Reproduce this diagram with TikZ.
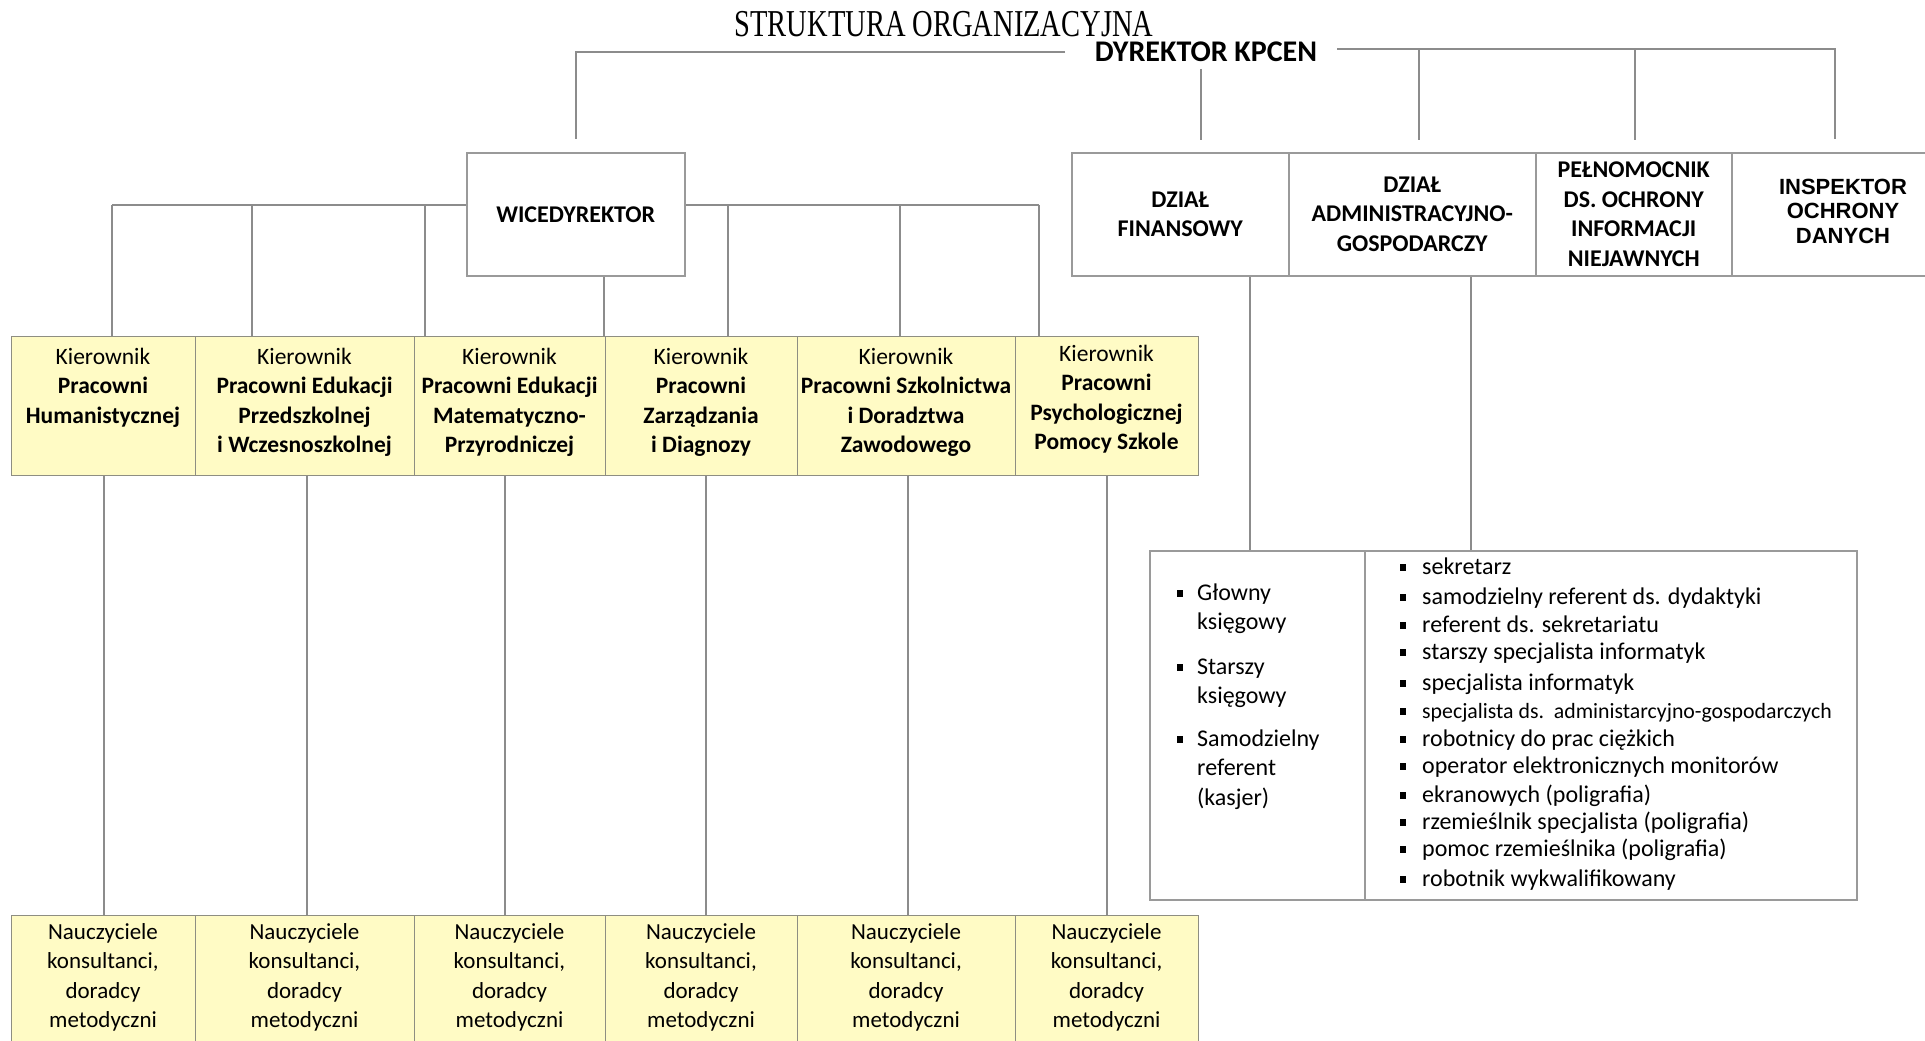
\documentclass[tikz,border=0pt]{standalone}
\usepackage{fontspec}
\setmainfont{Carlito}
\newfontfamily\titlefont{Liberation Serif}
\newfontfamily\arialfont{Liberation Sans}
\usetikzlibrary{backgrounds}
\definecolor{lncol}{HTML}{8C8C8C}
\definecolor{boxcol}{HTML}{9A9A9A}
\definecolor{kfill}{HTML}{FFFBC5}
\definecolor{kborder}{HTML}{8E8E82}
\newcommand{\stk}[1]{\begin{tabular}[t]{@{}c@{}}#1\end{tabular}}
\newcommand{\stkl}[1]{\begin{tabular}[t]{@{}l@{}}#1\end{tabular}}
\newcommand{\sqb}{\rule[3pt]{5.5pt}{7pt}}
\begin{document}
\begin{tikzpicture}[x=1pt,y=-1pt,
  ln/.style={draw=lncol, line width=1.5pt},
  frame/.style={draw=boxcol, line width=1.5pt, fill=white, rectangle, inner sep=0pt, anchor=north west},
  kbox/.style={draw=kborder, line width=1.4pt, fill=kfill, rectangle, inner sep=0pt, anchor=north west},
  hd/.style={font=\bfseries\fontsize{24}{29.5}\selectfont, align=center},
  ktext/.style={anchor=base, inner sep=0pt, font=\fontsize{23.5}{29.5}\selectfont},
  btext/.style={anchor=base, inner sep=0pt, font=\fontsize{23}{29.5}\selectfont},
  item/.style={anchor=base west, inner sep=0pt, font=\fontsize{24}{29.5}\selectfont},
]
\useasboundingbox (0,0) rectangle (1925,1041);

% title and director
\node[anchor=base, inner sep=0pt] (title) at (944,37) {\titlefont\fontsize{38}{40}\selectfont\scalebox{0.75}[1]{STRUKTURA ORGANIZACYJNA}};
\node[anchor=base, inner sep=0pt] (dyr) at (1206,62) {\bfseries\fontsize{30}{32}\selectfont DYREKTOR KPCEN};

% deputy
\node[frame, hd, minimum width=218pt, minimum height=123pt] (wice) at (466,152) {WICEDYREKTOR};

% top right boxes
\node[frame, hd, minimum width=217pt, minimum height=123pt] (fin) at (1071,152) {DZIAŁ\\FINANSOWY};
\node[frame, hd, minimum width=247pt, minimum height=123pt] (adm) at (1288,152) {DZIAŁ\\ADMINISTRACYJNO-\\GOSPODARCZY};
\node[frame, hd, minimum width=196pt, minimum height=123pt] (pel) at (1535,152) {PEŁNOMOCNIK\\DS. OCHRONY\\INFORMACJI\\NIEJAWNYCH};
\node[frame, minimum width=206pt, minimum height=123pt] (insp) at (1731,152) {};
\node[align=center, inner sep=0pt, font=\arialfont\bfseries\fontsize{22}{24.5}\selectfont] (inspt) at (1843,211) {INSPEKTOR\\OCHRONY\\DANYCH};

% kierownik row
\foreach \a/\b/\n in {11/195/1,195/414/2,414/605/3,605/797/4,797/1015/5,1015/1198/6} {
  \pgfmathsetmacro\w{\b-\a}
  \node[kbox, minimum width=\w pt, minimum height=139pt] (k\n) at (\a,336) {};
  \node[kbox, minimum width=\w pt, minimum height=140pt] (b\n) at (\a,915) {};
}
\node[ktext] (kt1) at (103,364) {\stk{Kierownik\\\textbf{Pracowni}\\\textbf{Humanistycznej}}};
\node[ktext] (kt2) at (304.5,364) {\stk{Kierownik\\\textbf{Pracowni Edukacji}\\\textbf{Przedszkolnej}\\\textbf{i Wczesnoszkolnej}}};
\node[ktext] (kt3) at (509.5,364) {\stk{Kierownik\\\textbf{Pracowni Edukacji}\\\textbf{Matematyczno-}\\\textbf{Przyrodniczej}}};
\node[ktext] (kt4) at (701,364) {\stk{Kierownik\\\textbf{Pracowni}\\\textbf{Zarządzania}\\\textbf{i Diagnozy}}};
\node[ktext] (kt5) at (906,364) {\stk{Kierownik\\\textbf{Pracowni Szkolnictwa}\\\textbf{i Doradztwa}\\\textbf{Zawodowego}}};
\node[ktext] (kt6) at (1106.5,361) {\stk{Kierownik\\\textbf{Pracowni}\\\textbf{Psychologicznej}\\\textbf{Pomocy Szkole}}};

\node[btext] (bt1) at (103,939) {\stk{Nauczyciele\\konsultanci,\\doradcy\\metodyczni}};
\node[btext] (bt2) at (304.5,939) {\stk{Nauczyciele\\konsultanci,\\doradcy\\metodyczni}};
\node[btext] (bt3) at (509.5,939) {\stk{Nauczyciele\\konsultanci,\\doradcy\\metodyczni}};
\node[btext] (bt4) at (701,939) {\stk{Nauczyciele\\konsultanci,\\doradcy\\metodyczni}};
\node[btext] (bt5) at (906,939) {\stk{Nauczyciele\\konsultanci,\\doradcy\\metodyczni}};
\node[btext] (bt6) at (1106.5,939) {\stk{Nauczyciele\\konsultanci,\\doradcy\\metodyczni}};

% staff list box
\node[frame, minimum width=215pt, minimum height=349pt] (lb1) at (1149,550) {};
\node[frame, minimum width=492pt, minimum height=349pt] (lb2) at (1364,550) {};

\node[item] (la) at (1177,600) {\sqb\hspace{14.5pt}\stkl{Głowny\\księgowy}};
\node[item] (lb) at (1177,674) {\sqb\hspace{14.5pt}\stkl{Starszy\\księgowy}};
\node[item] (lc) at (1177,746) {\sqb\hspace{14.5pt}\stkl{Samodzielny\\referent\\(kasjer)}};

\node[item] (ra) at (1400,574) {\sqb\hspace{16.5pt}sekretarz};
\node[item] (rb) at (1400,604) {\sqb\hspace{16.5pt}samodzielny referent ds. dydaktyki};
\node[item] (rc) at (1400,632) {\sqb\hspace{16.5pt}referent ds. sekretariatu};
\node[item] (rd) at (1400,659) {\sqb\hspace{16.5pt}starszy specjalista informatyk};
\node[item] (re) at (1400,690) {\sqb\hspace{16.5pt}specjalista informatyk};
\node[item, font=\fontsize{21.8}{24}\selectfont] (rf) at (1400,718) {\sqb\hspace{16.5pt}specjalista ds.\ \ administarcyjno-gospodarczych};
\node[item] (rg) at (1400,746) {\sqb\hspace{16.5pt}robotnicy do prac ciężkich};
\node[item] (rh) at (1400,773) {\sqb\hspace{16.5pt}operator elektronicznych monitorów};
\node[item] (ri) at (1400,802) {\sqb\hspace{16.5pt}ekranowych (poligrafia)};
\node[item] (rj) at (1400,829) {\sqb\hspace{16.5pt}rzemieślnik specjalista (poligrafia)};
\node[item] (rk) at (1400,856) {\sqb\hspace{16.5pt}pomoc rzemieślnika (poligrafia)};
\node[item] (rl) at (1400,886) {\sqb\hspace{16.5pt}robotnik wykwalifikowany};

% connectors
\begin{pgfonlayer}{background}
  \fill[white] (0,0) rectangle (1925,1041);
  \coordinate (dl) at (1065,52);
  \coordinate (dr) at (1337,49);
  \draw[ln, shorten >=13pt] (dl) -| (wice.north);
  \draw[ln, shorten >=13pt] (dr) -| (insp.north);
  \coordinate (c1) at (1201,69);
  \coordinate (c2) at (1419,50);
  \coordinate (c3) at (1635,50);
  \draw[ln, shorten >=12pt] (c1) -- (c1 |- fin.north);
  \draw[ln, shorten >=12pt] (c2) -- (c2 |- adm.north);
  \draw[ln, shorten >=12pt] (c3) -- (c3 |- pel.north);
  % deputy level
  \coordinate (h1) at (112,205);
  \coordinate (h2) at (252,205);
  \coordinate (h3) at (425,205);
  \coordinate (h4) at (728,205);
  \coordinate (h5) at (900,205);
  \coordinate (h6) at (1039,205);
  \draw[ln] (h1) -- (h6);
  \draw[ln] (h1) -- (h1 |- k1.north);
  \draw[ln] (h2) -- (h2 |- k2.north);
  \draw[ln] (h3) -- (h3 |- k3.north);
  \draw[ln] (h4) -- (h4 |- k4.north);
  \draw[ln] (h5) -- (h5 |- k5.north);
  \draw[ln] (h6) -- (h6 |- k6.north);
  \coordinate (ws) at (604,275);
  \draw[ln] (ws) -- (ws |- k3.north);
  % kierownik to teachers
  \coordinate (u1) at (104,475);
  \coordinate (u2) at (307,475);
  \coordinate (u3) at (505,475);
  \coordinate (u4) at (706,475);
  \coordinate (u5) at (908,475);
  \coordinate (u6) at (1107,475);
  \draw[ln] (u1) -- (u1 |- b1.north);
  \draw[ln] (u2) -- (u2 |- b2.north);
  \draw[ln] (u3) -- (u3 |- b3.north);
  \draw[ln] (u4) -- (u4 |- b4.north);
  \draw[ln] (u5) -- (u5 |- b5.north);
  \draw[ln] (u6) -- (u6 |- b6.north);
  % departments to staff
  \coordinate (r1) at (1250,275);
  \coordinate (r2) at (1471,275);
  \draw[ln] (r1) -- (r1 |- lb1.north);
  \draw[ln] (r2) -- (r2 |- lb2.north);
\end{pgfonlayer}
\end{tikzpicture}
\end{document}
